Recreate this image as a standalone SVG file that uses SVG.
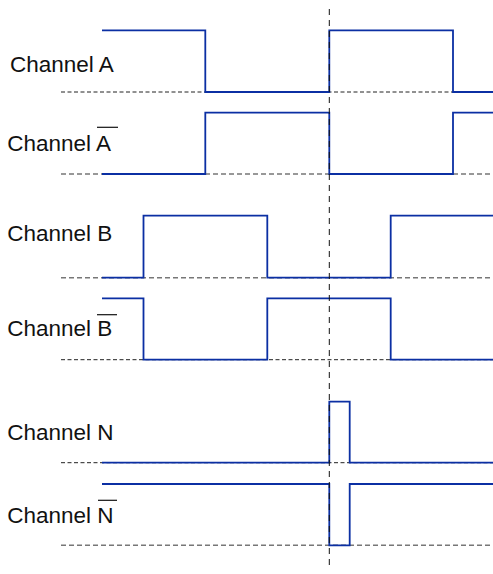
<svg xmlns="http://www.w3.org/2000/svg" width="493" height="574" viewBox="0 0 493 574">
<style>
.lbl{font-family:"Liberation Sans",Arial,sans-serif;font-size:22.5px;fill:#111}
.sig{fill:none;stroke:#0b2fa3;stroke-width:1.8;stroke-linejoin:miter}
.bk{stroke:#222;stroke-width:1;stroke-dasharray:4 2.5;fill:none}
.gy{stroke:#777;stroke-width:1.5;stroke-dasharray:5 3;fill:none}
.ov{stroke:#111;stroke-width:1.2}
.mark{stroke:#111;stroke-width:1;stroke-dasharray:6 5;fill:none}
</style>
<rect width="493" height="574" fill="#fff"/>
<g id="baselines">
<line class="bk" x1="61" y1="92" x2="493" y2="92"/>
<line class="gy" x1="61" y1="174" x2="493" y2="174"/>
<line class="gy" x1="61" y1="277.7" x2="493" y2="277.7"/>
<line class="bk" x1="61" y1="359.7" x2="493" y2="359.7"/>
<line class="bk" x1="61" y1="462.7" x2="493" y2="462.7"/>
<line class="gy" x1="61" y1="545.3" x2="493" y2="545.3"/>
</g>
<g id="channel-a">
<text class="lbl" x="10" y="72">Channel A</text>
<path class="sig" d="M102 30.3H205.3V92H329.3V30.3H453V92H493"/>
</g>
<g id="channel-a-bar">
<text class="lbl" x="7.3" y="150.5">Channel A</text>
<line class="ov" x1="97" y1="127.3" x2="118" y2="127.3"/>
<path class="sig" d="M102 174H205.3V112.7H329.3V174H453V112.7H493"/>
</g>
<g id="channel-b">
<text class="lbl" x="7.3" y="240.5">Channel B</text>
<path class="sig" d="M102 277.7H143.5V215.7H267.3V277.7H390.7V215.7H493"/>
</g>
<g id="channel-b-bar">
<text class="lbl" x="7.3" y="336">Channel B</text>
<line class="ov" x1="97" y1="314.7" x2="117" y2="314.7"/>
<path class="sig" d="M102 298.3H143.5V359.7H267.3V298.3H390.7V359.7H493"/>
</g>
<g id="channel-n">
<text class="lbl" x="7.3" y="440">Channel N</text>
<path class="sig" d="M102 462.7H329.3V401.7H349.7V462.7H493"/>
</g>
<g id="channel-n-bar">
<text class="lbl" x="7.3" y="523">Channel N</text>
<line class="ov" x1="98" y1="500.3" x2="117" y2="500.3"/>
<path class="sig" d="M102 484H329.3V545.3H349.7V484H493"/>
</g>
<g id="connectors">
<line class="mark" x1="329.3" y1="9" x2="329.3" y2="570"/>
</g>
</svg>
